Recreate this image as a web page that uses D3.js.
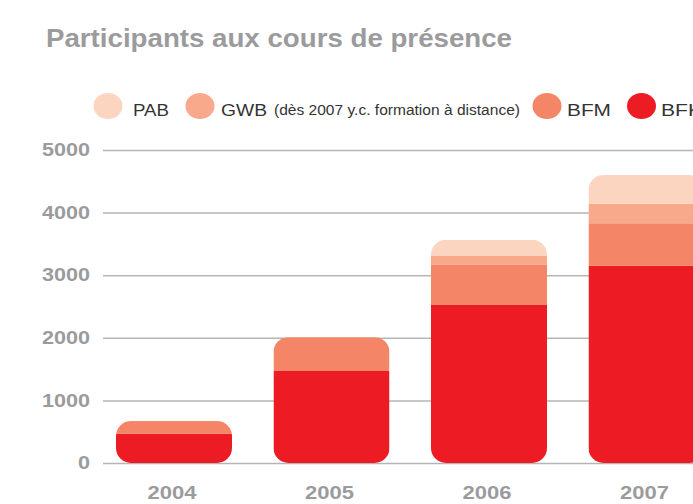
<!DOCTYPE html>
<html>
<head>
<meta charset="utf-8">
<script src="https://cdn.jsdelivr.net/npm/d3@7"></script>
<style>
  body { margin: 0; background: #fff; }
  svg { display: block; font-family: "Liberation Sans", Arial, sans-serif; }
</style>
</head>
<body>
<div class="chart"></div>
<script>
// data
const years = ['2004', '2005', '2006', '2007'];
const seriesNames = ['BFK', 'BFM', 'GWB', 'PAB'];
const bfk = [465, 1470, 2525, 3150];
const bfm = [205, 540, 640, 680];
const gwb = [0, 0, 150, 310];
const pab = [0, 0, 250, 460];
const yTicks = [0, 1000, 2000, 3000, 4000, 5000];
const colors = { BFK: '#ed1c24', BFM: '#f48567', GWB: '#f9a98b', PAB: '#fcd5c1' };

const svg_width = 693;
const svg_height = 504;
const fontStack = '"Liberation Sans", Arial, sans-serif';

const tableData = years.map((y, i) => ({ year: y, BFK: bfk[i], BFM: bfm[i], GWB: gwb[i], PAB: pab[i] }));
const stacked = d3.stack().keys(seriesNames)(tableData);

const svg = d3.select('.chart')
  .append('svg')
  .attr('width', svg_width)
  .attr('height', svg_height);

// scales
const xScale = d3.scaleBand()
  .domain(years)
  .range([95.25, 725.25])
  .paddingInner(0.2635)
  .paddingOuter(0.1317);
const yScale = d3.scaleLinear([0, 5000], [463, 150]);

// title (the source font is wider, so stretch to its width)
svg.append('text')
  .attr('x', 46)
  .attr('y', 47)
  .attr('textLength', 466)
  .attr('lengthAdjust', 'spacingAndGlyphs')
  .style('font-size', '25.5px')
  .style('font-weight', 'bold')
  .style('fill', '#9b9b9d')
  .text('Participants aux cours de présence');

// legend
const legendItems = [
  { key: 'PAB', cx: 108, tx: 133, w: 36 },
  { key: 'GWB', cx: 200, tx: 221, w: 46, note: '(dès 2007 y.c. formation à distance)', nx: 274, nw: 246 },
  { key: 'BFM', cx: 547, tx: 567, w: 44 },
  { key: 'BFK', cx: 641.5, tx: 661, w: 41 }
];
const legend = svg.append('g').attr('class', 'legend');
legendItems.forEach(d => {
  legend.append('ellipse')
    .attr('cx', d.cx)
    .attr('cy', 106)
    .attr('rx', 14.5)
    .attr('ry', 13)
    .style('fill', colors[d.key]);
  legend.append('text')
    .attr('x', d.tx)
    .attr('y', 116)
    .attr('textLength', d.w)
    .attr('lengthAdjust', 'spacingAndGlyphs')
    .style('font-size', '16.5px')
    .style('fill', '#333')
    .text(d.key);
  if (d.note) {
    legend.append('text')
      .attr('x', d.nx)
      .attr('y', 115)
      .attr('textLength', d.nw)
      .attr('lengthAdjust', 'spacingAndGlyphs')
      .style('font-size', '14px')
      .style('fill', '#333')
      .text(d.note);
  }
});

// grid + y axis
const yAxis = d3.axisLeft(yScale)
  .tickValues(yTicks)
  .tickFormat(d3.format('d'))
  .tickSizeInner(-(svg_width - 103))
  .tickSizeOuter(0)
  .tickPadding(13);
const yAxisDraw = svg.append('g')
  .attr('class', 'y axis')
  .attr('transform', 'translate(103,0)')
  .call(yAxis);
yAxisDraw.select('.domain').remove();
yAxisDraw.selectAll('line')
  .attr('stroke', '#b5b5b5')
  .attr('stroke-width', 1.5);
yAxisDraw.selectAll('text')
  .attr('textLength', d => String(d).length * 12)
  .attr('lengthAdjust', 'spacingAndGlyphs')
  .style('font-size', '17.5px')
  .style('font-weight', 'bold')
  .style('font-family', fontStack)
  .style('fill', '#9b9b9d');

// bars, rounded as a whole stack
const defs = svg.append('defs');
tableData.forEach(d => {
  const total = seriesNames.reduce((s, k) => s + d[k], 0);
  defs.append('clipPath')
    .attr('id', 'clip-' + d.year)
    .append('rect')
    .attr('x', xScale(d.year))
    .attr('y', yScale(total))
    .attr('width', xScale.bandwidth())
    .attr('height', yScale(0) - yScale(total))
    .attr('rx', 15)
    .attr('ry', 15);
});

const layers = svg.append('g').attr('class', 'bars')
  .selectAll('g')
  .data(stacked)
  .join('g')
  .style('fill', d => colors[d.key]);
layers.selectAll('rect')
  .data(d => d)
  .join('rect')
  .attr('clip-path', d => `url(#clip-${d.data.year})`)
  .attr('x', d => xScale(d.data.year))
  .attr('y', d => yScale(d[1]))
  .attr('width', xScale.bandwidth())
  .attr('height', d => yScale(d[0]) - yScale(d[1]));

// x labels
const xAxis = d3.axisBottom(xScale).tickSize(0).tickPadding(23);
const xAxisDraw = svg.append('g')
  .attr('class', 'x axis')
  .attr('transform', 'translate(-2,463)')
  .call(xAxis);
xAxisDraw.select('.domain').remove();
xAxisDraw.selectAll('text')
  .attr('textLength', 49)
  .attr('lengthAdjust', 'spacingAndGlyphs')
  .style('font-size', '19px')
  .style('font-weight', 'bold')
  .style('font-family', fontStack)
  .style('fill', '#9b9b9d');
</script>
</body>
</html>
